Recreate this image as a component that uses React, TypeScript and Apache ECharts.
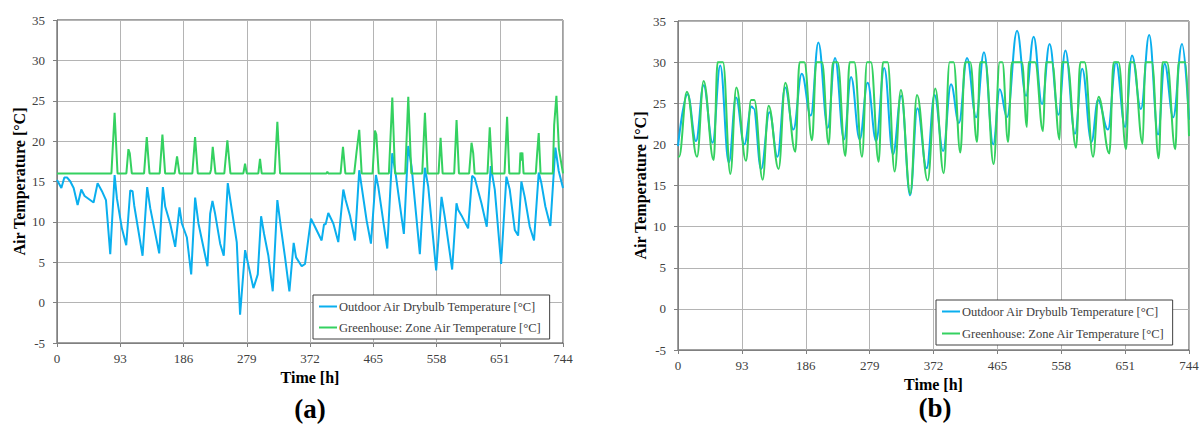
import React, { useEffect, useRef } from "react";
import * as echarts from "echarts";

const NAME_OUT = "Outdoor Air Drybulb Temperature [°C]";
const NAME_GH = "Greenhouse: Zone Air Temperature [°C]";
const X_TICKS = [0, 93, 186, 279, 372, 465, 558, 651, 744];

// (a) outdoor
const aOutTime = [0,6.4,10.8,14.7,19.6,24.5,30.3,35.7,40.6,53.8,59.7,66.1,72,78.3,84.7,88.1,95.4,101.8,107.7,111.1,113.6,125.8,132.6,137.1,150.3,155.7,159.1,166.4,173.8,180.1,183.6,190.9,197.3,203.1,208,221.2,225.2,228.6,232.5,239.9,245.2,251.1,257,264.3,269.2,276.6,281.5,288.8,295.2,300.1,304.5,310.8,317.2,324,329.4,335.3,341.7,348,351.5,359.8,364.7,373.5,379.3,389.1,392.6,395,398.9,406.3,413.6,421,424.4,430.7,438.1,444.4,447.9,455.2,461.6,468.9,472.3,485.6,492.9,497.8,510,516.4,521.3,533.5,540.9,545.8,557.5,565.4,570.2,581,587.4,589.8,594.7,604.5,610.4,614.3,624.1,631.9,637.8,643.7,653,660.8,665.7,673.1,678,682.8,687.7,695.1,701.4,708.3,712.2,718.1,725.4,732.8,737.7,744];
const aOutTemp = [15.2,14.2,15.5,15.5,15.0,14.2,12.1,14.0,13.2,12.4,14.8,13.8,12.7,6.0,15.8,12.9,9.2,7.1,13.9,13.8,12.0,5.8,14.3,11.7,6.1,14.3,11.9,9.8,6.9,11.8,9.8,8.1,3.5,13.0,9.8,4.5,11.0,12.6,11.0,7.3,5.8,14.8,11.5,7.5,-1.5,6.5,4.6,1.8,3.5,10.7,8.5,5.8,1.4,12.7,9.2,5.6,1.4,7.4,5.6,4.5,4.8,10.4,9.4,7.7,9.7,9.7,11.1,9.8,7.5,14.0,12.7,10.8,7.7,16.4,14.4,10.2,7.3,15.8,14.4,6.7,18.5,16.0,8.5,19.4,16.9,6.0,16.7,14.4,4.0,13.1,10.6,4.1,12.3,11.5,10.8,9.2,15.7,15.4,12.3,9.4,16.9,14.0,4.8,15.6,14.0,9.0,8.3,15.0,13.1,9.4,7.7,16.1,14.8,11.9,9.5,19.2,16.3,14.2];

// (a) greenhouse
const aGhTime = [0,80,84.7,89,102,105,107,110,128,132,136,151,155,159,173,176.5,180,199,203,207,225,226.5,229,233,246,250.5,255,274,276.5,279,296,298.5,301,320,324,328,396,397.5,399,417,420.5,424,437,440.5,444.4,448,464,467.5,469.5,473,488,493,497,512,516.5,521,537,541,545,561,564,567,584,587.5,591,606,609.5,612,614,633,636.3,640,658,661.8,665,680,681.4,682.8,684.3,686,704,706,708.3,711,729,731,734.3,738,744];
const aGhTemp = [16,16,23.5,16,16,19,18.5,16,16,20.5,16,16,20.8,16,16,18.1,16,16,20.5,16,16,16.5,19.3,16,16,20.1,16,16,17.2,16,16,17.8,16,16,22.4,16,16,16.2,16,16,19.3,16,16,18.7,21.4,16,16,21.3,20.8,16,16,25.4,16,16,25.5,16,16,23.5,16,16,20.4,16,16,22.6,16,16,19.8,18.5,16,16,21.7,16,16,23,16,16,18.6,17.6,18.6,16,16,18.5,21,16,16,22,25.6,19,16];

// (b) outdoor
const bOutTime = [0,14,26.2,37.3,50.4,61.5,74,84.4,96.6,107,110,121,133.2,144.8,156,168,180.2,193.3,204.4,218,228.6,241.7,252,264.5,276.1,288.5,300.3,313,325,338,348.5,362,373.5,386,397.5,409,420.8,434,445.5,459,468.5,479,493.6,506.7,517.8,530,541,554,564,578,588.5,602,611.5,626,637.7,651,661,674,686,699,708.5,721,733.8,744];
const bOutTemp = [19.8,26.1,20.4,27.2,20.2,29.6,17.8,25.7,20.0,24.6,24.4,17.0,23.9,18.5,26.9,21.8,28.6,23.5,32.4,22.0,30.5,20.6,28.2,20.6,27.5,20.4,29.3,18.8,25.9,13.8,24.4,17.1,26.0,19.2,27.3,22.6,30.5,23.3,31.2,20.0,26.7,23.3,33.8,25.9,33.1,24.9,32.2,23.6,31.4,21.3,29.2,20.3,25.4,21.8,30.0,22.1,30.8,24.3,33.3,21.2,29.8,23.3,32.2,23.0];

// (b) greenhouse
const bGhTime = [0,1.5,13,27.7,37.3,51.9,57.7,65.5,76.2,84.9,99,106.3,111.1,123.2,132,146.5,156.2,170.8,177,183.9,195.1,201.4,209.7,219.3,225.7,232.4,243.6,249.9,256.7,267.9,275.2,281,292.1,298.5,305.2,315.4,324.5,338.2,348,363.5,374.6,386.8,395.5,401.3,411,418,425.5,435.3,440,447.5,459.5,468.4,472.3,480.5,486.3,500.8,508,510.4,520,531.4,535.8,544.5,555.6,559,566.6,579.5,585.8,592,604.3,612.4,628,634.3,641.5,652.3,657.6,663.4,676.5,680.4,690,699.8,705.6,712,724,729,738.6,744];
const bGhTemp = [18.5,18.5,26.4,18.5,27.7,18.1,30,30,16.4,26.9,18.0,25.4,25.4,15.7,24.7,17.0,27.5,19.1,30,30,20.5,30,30,20.0,30,30,18.6,30,30,18.5,30,30,17.9,30,30,16.7,26.6,14.0,26.0,15.6,26.8,16.5,30,30,19.0,30,30,20.3,30,30,17.6,30,30,20.3,30,30,22.1,30,30,21.6,30,30,20.6,30,30,19.6,30,30,18.5,25.8,18.9,30,30,19.4,30,30,20.1,30,30,18.3,30,30,19.4,30,30,21];

const BLUE = "#0AAFEE";
const GREEN = "#34D160";
const FONT = "Liberation Serif";

const pairs = (t: number[], v: number[]) => t.map((x, i) => [x, v[i]]);

function xAxis(gridIndex: number, nameGap: number) {
  return {
    type: "value",
    gridIndex,
    min: 0,
    max: 744,
    interval: 93,
    name: "Time [h]",
    nameLocation: "middle",
    nameGap,
    nameTextStyle: { fontFamily: FONT, fontWeight: "bold", fontSize: 16, color: "#000" },
    axisLine: { show: true, onZero: false, lineStyle: { color: "#808080", width: 1 } },
    axisTick: { show: true, length: 4, lineStyle: { color: "#808080" } },
    axisLabel: {
      fontFamily: FONT, fontSize: 13, color: "#404040", margin: 9,
      formatter: (v: number) => (X_TICKS.includes(v) ? String(v) : ""),
    },
    splitLine: { show: true, lineStyle: { color: "#B4B4B4", width: 1 } },
  };
}

function yAxis(gridIndex: number) {
  return {
    type: "value",
    gridIndex,
    min: -5,
    max: 35,
    interval: 5,
    name: "Air Temperature [°C]",
    nameLocation: "middle",
    nameGap: 30,
    nameTextStyle: { fontFamily: FONT, fontWeight: "bold", fontSize: 16, color: "#000" },
    axisLine: { show: true, lineStyle: { color: "#808080", width: 1 } },
    axisTick: { show: true, length: 4, lineStyle: { color: "#808080" } },
    axisLabel: { fontFamily: FONT, fontSize: 13, color: "#404040", margin: 12 },
    splitLine: { show: true, lineStyle: { color: "#B4B4B4", width: 1 } },
  };
}

function legend(left: number, top: number, gap: number) {
  return {
    left,
    top,
    orient: "vertical",
    data: [NAME_OUT, NAME_GH],
    icon: "rect",
    itemWidth: 18,
    itemHeight: 2,
    itemGap: gap,
    padding: [5, 8, 5, 6],
    backgroundColor: "#fff",
    borderColor: "#404040",
    borderWidth: 1,
    borderRadius: 0,
    selectedMode: false,
    textStyle: { fontFamily: FONT, fontSize: 12.5, color: "#404040", padding: [0, 0, 0, -3] },
  };
}

export default function App() {
  const ref = useRef<HTMLDivElement>(null);
  useEffect(() => {
    if (!ref.current) return;
    const chart = echarts.init(ref.current, undefined, { renderer: "svg" });
    const lineBase = { type: "line", showSymbol: false, symbol: "none", lineStyle: { width: 2 } };
    chart.setOption({
      animation: false,
      backgroundColor: "#fff",
      textStyle: { fontFamily: FONT },
      grid: [
        { left: 57, top: 20, width: 506, height: 323, show: true, borderColor: "#404040", borderWidth: 1, containLabel: false },
        { left: 678, top: 21, width: 511, height: 329, show: true, borderColor: "#404040", borderWidth: 1, containLabel: false },
      ],
      xAxis: [xAxis(0, 24), xAxis(1, 25)],
      yAxis: [yAxis(0), yAxis(1)],
      legend: [legend(313, 295, 8), legend(936, 300, 9)],
      series: [
        { ...lineBase, name: NAME_OUT, xAxisIndex: 0, yAxisIndex: 0, color: BLUE, lineStyle: { width: 2, color: BLUE }, data: pairs(aOutTime, aOutTemp) },
        { ...lineBase, name: NAME_GH, xAxisIndex: 0, yAxisIndex: 0, color: GREEN, lineStyle: { width: 2, color: GREEN }, data: pairs(aGhTime, aGhTemp) },
        { ...lineBase, name: NAME_OUT, xAxisIndex: 1, yAxisIndex: 1, color: BLUE, smooth: 0.4, smoothMonotone: "x", lineStyle: { width: 2, color: BLUE }, data: pairs(bOutTime, bOutTemp) },
        { ...lineBase, name: NAME_GH, xAxisIndex: 1, yAxisIndex: 1, color: GREEN, smooth: 0.4, smoothMonotone: "x", lineStyle: { width: 2, color: GREEN }, data: pairs(bGhTime, bGhTemp) },
      ],
      graphic: [
        { type: "text", x: 310, y: 409, style: { text: "(a)", fontFamily: FONT, fontWeight: "bold", fontSize: 27, fill: "#000", align: "center", verticalAlign: "middle" } },
        { type: "text", x: 935, y: 408, style: { text: "(b)", fontFamily: FONT, fontWeight: "bold", fontSize: 27, fill: "#000", align: "center", verticalAlign: "middle" } },
      ],
    });
    return () => chart.dispose();
  }, []);
  return (
    <div
      ref={ref}
      style={{ position: "absolute", left: 0, top: 0, width: 1204, height: 426, background: "#fff" }}
    />
  );
}
